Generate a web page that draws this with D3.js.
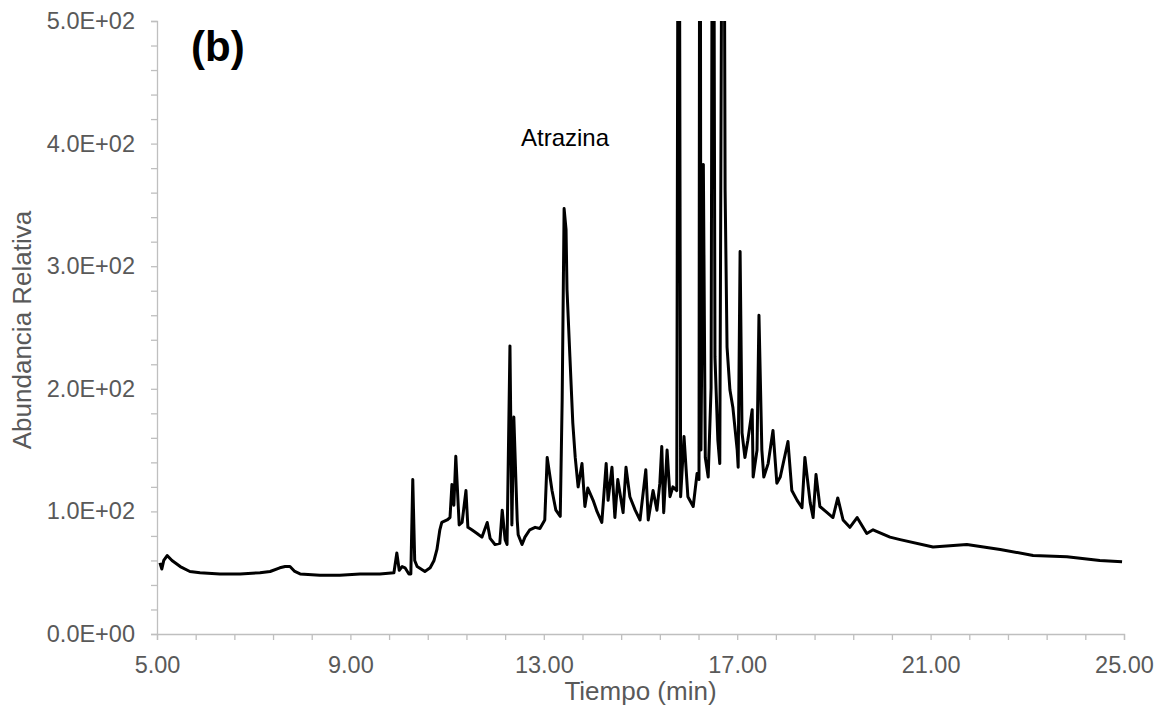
<!DOCTYPE html>
<html><head><meta charset="utf-8">
<script src="https://cdn.jsdelivr.net/npm/d3@7"></script>
<style>body{margin:0;background:#fff;} text{font-family:"Liberation Sans",Arial,sans-serif;}</style>
</head><body>
<svg id="c" width="1159" height="717"></svg>
<script>
// Retention time (min)
const times = [5.06,5.10,5.14,5.21,5.31,5.48,5.68,5.89,6.30,6.72,7.13,7.34,7.54,7.65,7.75,7.85,7.96,8.37,8.78,9.20,9.61,9.90,9.96,10.01,10.07,10.13,10.21,10.25,10.29,10.33,10.38,10.54,10.65,10.73,10.79,10.85,10.89,11.00,11.06,11.10,11.14,11.18,11.25,11.31,11.39,11.43,11.51,11.62,11.72,11.83,11.89,11.99,12.09,12.14,12.20,12.24,12.30,12.34,12.38,12.45,12.47,12.55,12.61,12.71,12.82,12.92,13.02,13.07,13.17,13.25,13.34,13.38,13.42,13.46,13.48,13.54,13.60,13.65,13.71,13.79,13.85,13.91,14.02,14.10,14.20,14.29,14.33,14.41,14.47,14.53,14.64,14.70,14.78,14.89,14.99,15.11,15.16,15.26,15.34,15.40,15.44,15.48,15.55,15.61,15.67,15.75,15.79,15.83,15.90,15.98,16.09,16.17,16.21,16.23,16.25,16.30,16.34,16.40,16.46,16.50,16.54,16.60,16.64,16.71,16.75,16.79,16.85,16.91,17.00,17.02,17.06,17.10,17.16,17.22,17.31,17.33,17.41,17.45,17.51,17.55,17.64,17.74,17.82,17.89,18.05,18.13,18.24,18.34,18.40,18.51,18.57,18.63,18.71,18.86,18.98,19.08,19.19,19.33,19.48,19.68,19.81,20.16,20.37,21.05,21.75,22.44,23.12,23.82,24.50,24.96];
// Relative abundance
const abundance = [58,53,60,64,60,55,51,50,49,49,50,51,54,55,55,51,49,48,48,49,49,50,66,52,55,54,49,49,126,60,55,51,54,60,69,85,91,93,95,122,105,145,89,91,117,87,85,82,79,91,78,73,74,101,77,73,235,89,177,93,81,73,79,85,87,86,93,144,117,101,96,191,347,330,281,226,172,144,120,139,104,119,109,100,91,139,109,136,95,126,99,136,112,101,93,134,93,117,101,123,153,99,150,112,120,117,900,112,161,112,104,131,126,900,150,383,144,128,201,900,226,158,139,900,362,234,199,185,150,136,312,164,144,158,183,128,150,260,150,128,139,166,123,128,157,117,109,103,144,107,95,130,104,99,95,111,93,87,95,82,85,79,77,71,73,69,64,63,60,59];

const xMajorTicks = [5,9,13,17,21,25];
const xTickLabels = ["5.00","9.00","13.00","17.00","21.00","25.00"];
const yMajorTicks = [0,100,200,300,400,500];
const yTickLabels = ["0.0E+00","1.0E+02","2.0E+02","3.0E+02","4.0E+02","5.0E+02"];
const xMinorStep = 0.8, yMinorStep = 20;
const xTitle = "Tiempo (min)", yTitle = "Abundancia Relativa";
const panelLabel = "(b)", peakLabel = "Atrazina";

const svg = d3.select("#c");
const L=157, R=1124, T=21, B=634;
const x = d3.scaleLinear().domain([5,25]).range([L,R]);
const y = d3.scaleLinear().domain([0,500]).range([B,T]);
const axisCol = "#bfbfbf", txtCol = "#595959";

const xMinor = d3.range(0, 26).map(i => 5 + i*xMinorStep);
const yMinor = d3.range(0, 26).map(i => i*yMinorStep);

// x axis
const gx = svg.append("g").attr("transform",`translate(0,${B})`)
  .call(d3.axisBottom(x).tickValues(xMinor).tickSize(6).tickFormat(""));
gx.select(".domain").attr("stroke",axisCol).attr("stroke-width",1.3);
gx.selectAll(".tick line").attr("stroke",axisCol).attr("stroke-width",1.3);
svg.append("g").attr("transform",`translate(0,${B})`)
  .call(d3.axisBottom(x).tickValues(xMajorTicks).tickSize(0).tickPadding(22)
    .tickFormat((d,i)=>xTickLabels[i]))
  .call(g=>g.select(".domain").remove())
  .selectAll("text").attr("fill",txtCol).style("font-size","23.5px")
  .style("font-family","'Liberation Sans',Arial,sans-serif");

// y axis
const gy = svg.append("g").attr("transform",`translate(${L},0)`)
  .call(d3.axisLeft(y).tickValues(yMinor).tickSize(6).tickFormat(""));
gy.select(".domain").attr("stroke",axisCol).attr("stroke-width",1.3);
gy.selectAll(".tick line").attr("stroke",axisCol).attr("stroke-width",1.3);
svg.append("g").attr("transform",`translate(${L},0)`)
  .call(d3.axisLeft(y).tickValues(yMajorTicks).tickSize(0).tickPadding(22)
    .tickFormat((d,i)=>yTickLabels[i]))
  .call(g=>g.select(".domain").remove())
  .selectAll("text").attr("fill",txtCol).style("font-size","23.5px")
  .style("font-family","'Liberation Sans',Arial,sans-serif");

// clip
svg.append("clipPath").attr("id","pa").append("rect")
  .attr("x",L).attr("y",T).attr("width",R-L).attr("height",B-T);

const data = times.map((t,i)=>({t, v: abundance[i]}));
const line = d3.line().x(d=>x(d.t)).y(d=>y(d.v));
svg.append("path").datum(data).attr("clip-path","url(#pa)")
  .attr("fill","none").attr("stroke","#000").attr("stroke-width",3)
  .attr("stroke-linejoin","round").attr("d",line);

// titles
svg.append("text").attr("x",(L+R)/2).attr("y",700).attr("text-anchor","middle")
  .attr("fill",txtCol).style("font-size","26px").text(xTitle);
svg.append("text").attr("transform","translate(31,330) rotate(-90)").attr("text-anchor","middle")
  .attr("fill",txtCol).style("font-size","26px").text(yTitle);

svg.append("text").attr("x",191).attr("y",61).attr("fill","#000")
  .style("font-size","42px").style("font-weight","bold").text(panelLabel);
svg.append("text").attr("x",521).attr("y",146).attr("fill","#000")
  .style("font-size","24px").text(peakLabel);
</script>
</body></html>
